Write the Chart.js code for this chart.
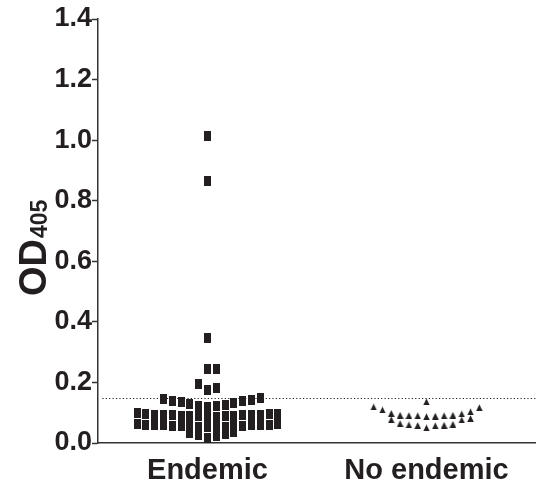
<!DOCTYPE html>
<html>
<head>
<meta charset="utf-8">
<script src="https://cdn.jsdelivr.net/npm/chart.js@4/dist/chart.umd.min.js"></script>
<style>
  body { margin: 0; background: #fff; }
  #wrap { width: 536px; height: 489px; position: relative; }
</style>
</head>
<body>
<div id="wrap"><canvas id="chart"></canvas></div>
<script>
// data
const categories = ['Endemic', 'No endemic'];
const endemic = [
    0.018, 0.024, 0.025, 0.029, 0.033, 0.036,
    0.052, 0.053, 0.053, 0.054, 0.055, 0.055, 0.056, 0.057, 0.057, 0.058, 0.058, 0.059, 0.060, 0.060, 0.061, 0.062, 0.062,
    0.086, 0.087, 0.088, 0.088, 0.089, 0.090, 0.090, 0.091, 0.092, 0.092, 0.093, 0.094, 0.094, 0.095, 0.096, 0.097, 0.098,
    0.120, 0.121, 0.123, 0.126, 0.128, 0.132, 0.134, 0.139, 0.140, 0.143, 0.144, 0.147,
    0.176, 0.183, 0.195,
    0.245, 0.245,
    0.348, 0.866, 1.014
];
const noEndemic = [
    0.050, 0.057, 0.058, 0.059, 0.060, 0.062, 0.064, 0.076, 0.077, 0.081,
    0.087, 0.089, 0.090, 0.090, 0.091, 0.092, 0.092, 0.096, 0.098, 0.103, 0.109, 0.117, 0.119,
    0.136
];
const cutoff = 0.147;
const yTicks = [0, 0.2, 0.4, 0.6, 0.8, 1.0, 1.2, 1.4];

// layout / style
const ink = '#231f20';
const font = '"Liberation Sans", Arial, sans-serif';
const slotWidth = 0.0402;   // horizontal step between neighbours, in x units
const rowHeight = 0.033;    // values closer than this share a row

// scatter-plot spreading: sort, group into rows, fill from centre outwards
function swarm(values, center) {
    const sorted = [...values].sort((a, b) => a - b);
    const pts = [];
    let row = [];
    const flush = () => {
        row.forEach((v, i) => {
            const k = Math.ceil(i / 2);
            const slot = i === 0 ? 0 : (i % 2 ? k : -k);
            pts.push({ x: center + slot * slotWidth, y: v });
        });
        row = [];
    };
    sorted.forEach(v => {
        if (row.length && v >= row[0] + rowHeight - 1e-9) flush();
        row.push(v);
    });
    flush();
    return pts;
}

function marker(w, h, draw) {
    const c = document.createElement('canvas');
    c.width = w;
    c.height = h;
    const g = c.getContext('2d');
    g.fillStyle = ink;
    draw(g);
    return c;
}
const squareMark = marker(7, 10, g => g.fillRect(0, 0, 7, 10));
const triangleMark = marker(7, 7, g => {
    g.beginPath();
    g.moveTo(3.5, 0.2);
    g.lineTo(6.8, 7);
    g.lineTo(0.2, 7);
    g.closePath();
    g.fill();
});

// y axis title with subscript
const yTitle = {
    id: 'yTitle',
    afterDraw(chart) {
        const ctx = chart.ctx;
        ctx.save();
        ctx.translate(46, 296);
        ctx.rotate(-Math.PI / 2);
        ctx.fillStyle = ink;
        ctx.textBaseline = 'alphabetic';
        ctx.font = 'bold 38px ' + font;
        ctx.fillText('OD', 0, 0);
        const w = ctx.measureText('OD').width;
        ctx.font = 'bold 23px ' + font;
        ctx.fillText('405', w + 1, 1);
        ctx.restore();
    }
};

new Chart(document.getElementById('chart'), {
    type: 'scatter',
    data: {
        datasets: [
            {
                type: 'line',
                data: [{ x: 0.52, y: cutoff }, { x: 2.5, y: cutoff }],
                borderColor: ink,
                borderWidth: 1.2,
                borderDash: [1.2, 2.2],
                pointRadius: 0,
                order: 5
            },
            {
                data: swarm(endemic, 1),
                pointStyle: squareMark,
                order: 1
            },
            {
                data: swarm(noEndemic, 2),
                pointStyle: triangleMark,
                order: 1
            }
        ]
    },
    options: {
        responsive: true,
        maintainAspectRatio: false,
        animation: false,
        layout: { autoPadding: false, padding: { top: 19, right: 0, left: 0, bottom: 0 } },
        plugins: {
            legend: { display: false },
            tooltip: { enabled: false }
        },
        scales: {
            x: {
                type: 'linear',
                min: 0.5,
                max: 2.5,
                afterBuildTicks: scale => {
                    scale.ticks = categories.map((c, i) => ({ value: i + 1 }));
                },
                afterFit: scale => { scale.height = 46; },
                grid: { display: false },
                border: { display: true, color: '#333', width: 1.5 },
                ticks: {
                    color: ink,
                    padding: 3,
                    maxRotation: 0,
                    font: { family: font, size: 29, weight: 'bold' },
                    callback: v => categories[Math.round(v) - 1]
                }
            },
            y: {
                min: 0,
                max: 1.4,
                afterBuildTicks: scale => {
                    scale.ticks = yTicks.map(v => ({ value: v }));
                },
                afterFit: scale => { scale.width = 98; },
                grid: {
                    drawOnChartArea: false,
                    drawTicks: true,
                    tickLength: 6,
                    tickColor: '#333',
                    tickWidth: 1.5
                },
                border: { display: true, color: '#333', width: 1.5 },
                ticks: {
                    color: ink,
                    padding: 0,
                    font: { family: font, size: 27, weight: 'bold' },
                    callback: v => v.toFixed(1)
                }
            }
        }
    },
    plugins: [yTitle]
});
</script>
</body>
</html>
